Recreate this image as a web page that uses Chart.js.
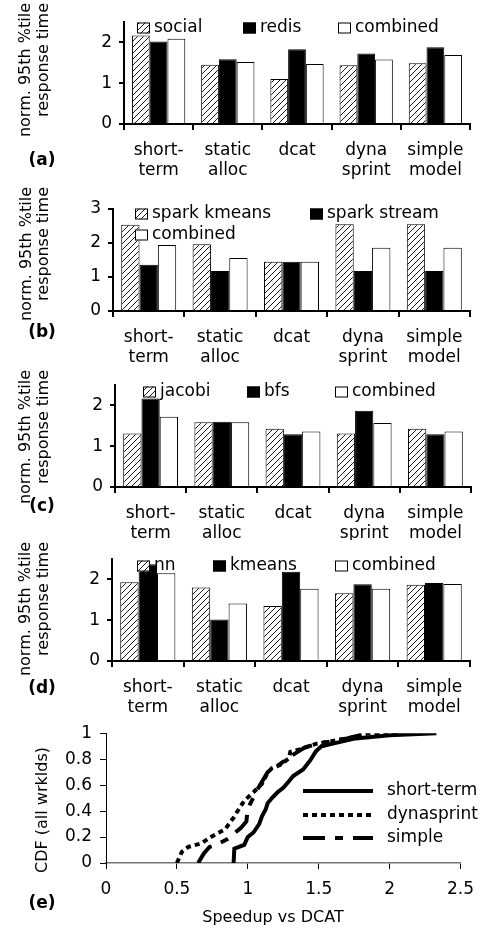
<!DOCTYPE html>
<html>
<head>
<meta charset="utf-8">
<script src="https://cdn.jsdelivr.net/npm/chart.js@4.4.1/dist/chart.umd.min.js"></script>
<style>
  html, body { margin: 0; padding: 0; background: #fff; }
  #wrap { position: relative; width: 484px; height: 930px; overflow: hidden; }
  canvas { position: absolute; left: 0; }
</style>
</head>
<body>
<div id="wrap">
  <canvas id="pa" width="484" height="185"></canvas>
  <canvas id="pb" width="484" height="190"></canvas>
  <canvas id="pc" width="484" height="180"></canvas>
  <canvas id="pd" width="484" height="190"></canvas>
  <canvas id="pe" width="484" height="215"></canvas>
</div>
<script>
// categories shared by the four bar panels
const categories = [['short-', 'term'], ['static', 'alloc'], 'dcat', ['dyna', 'sprint'], ['simple', 'model']];

// (a) social / redis
const aNames = ['social', 'redis', 'combined'];
const aSocial = [2.17, 1.45, 1.10, 1.44, 1.49];
const aRedis = [2.02, 1.59, 1.83, 1.73, 1.88];
const aCombined = [2.09, 1.52, 1.47, 1.58, 1.69];

// (b) spark kmeans / spark stream
const bNames = ['spark kmeans', 'spark stream', 'combined'];
const bKmeans = [2.54, 1.96, 1.45, 2.55, 2.55];
const bStream = [1.36, 1.18, 1.45, 1.18, 1.18];
const bCombined = [1.94, 1.56, 1.45, 1.86, 1.86];

// (c) jacobi / bfs
const cNames = ['jacobi', 'bfs', 'combined'];
const cJacobi = [1.31, 1.59, 1.43, 1.31, 1.43];
const cBfs = [2.17, 1.60, 1.29, 1.87, 1.29];
const cCombined = [1.72, 1.59, 1.36, 1.57, 1.36];

// (d) nn / kmeans
const dNames = ['nn', 'kmeans', 'combined'];
const dNn = [1.93, 1.80, 1.35, 1.66, 1.87];
const dKmeans = [2.37, 1.02, 2.19, 1.88, 1.91];
const dCombined = [2.15, 1.41, 1.77, 1.77, 1.89];

// y axis ranges of the bar panels
const barYMax = [2.5, 3, 2.5, 2.5];

// (e) CDF of speedup vs DCAT
const cdfNames = ['short-term', 'dynasprint', 'simple'];
const shortTermX = [0.90, 0.905, 0.975, 1.0, 1.04, 1.08, 1.10, 1.125, 1.14, 1.17, 1.21, 1.25, 1.29, 1.32, 1.39, 1.44, 1.48, 1.52, 1.6, 1.76, 2.0, 2.33];
const shortTermY = [0, 0.11, 0.14, 0.2, 0.235, 0.3, 0.36, 0.41, 0.46, 0.5, 0.545, 0.58, 0.63, 0.67, 0.72, 0.79, 0.86, 0.9, 0.92, 0.96, 0.985, 1.0];
const dynaX = [0.50, 0.535, 0.58, 0.67, 0.74, 0.84, 0.90, 0.94, 0.975, 1.04, 1.10, 1.14, 1.17, 1.23, 1.29, 1.30, 1.38, 1.48, 1.6, 1.75, 1.85, 2.07];
const dynaY = [0, 0.086, 0.124, 0.15, 0.2, 0.26, 0.35, 0.42, 0.48, 0.545, 0.61, 0.695, 0.73, 0.757, 0.806, 0.856, 0.88, 0.918, 0.94, 0.97, 1.0, 1.0];
const simpleX = [0.65, 0.69, 0.73, 0.77, 0.86, 0.95, 0.99, 1.0, 1.07, 1.14, 1.2, 1.3, 1.4, 1.5, 1.7, 1.85];
const simpleY = [0, 0.074, 0.124, 0.136, 0.186, 0.27, 0.32, 0.42, 0.57, 0.70, 0.74, 0.82, 0.89, 0.92, 0.96, 1.0];

const FONT = "'DejaVu Sans', sans-serif";
Chart.defaults.font.family = FONT;
Chart.defaults.color = '#000';

// diagonal hatch fill
function makeHatch() {
    const c = document.createElement('canvas');
    c.width = 6; c.height = 6;
    const g = c.getContext('2d');
    g.fillStyle = '#fff';
    g.fillRect(0, 0, 6, 6);
    g.strokeStyle = '#000';
    g.lineWidth = 0.9;
    g.beginPath();
    g.moveTo(0, 6); g.lineTo(6, 0);
    g.moveTo(-1, 1); g.lineTo(1, -1);
    g.moveTo(5, 7); g.lineTo(7, 5);
    g.stroke();
    return g.createPattern(c, 'repeat');
}
const hatch = makeHatch();
const fills = [hatch, '#000', '#fff'];

// short numbers: 0, 0.2, 1, 1.5 ...
const shortNum = v => String(Math.round(v * 10) / 10);

// rotated y title, panel tag, legend drawn on the canvas
function drawText(ctx, t, x, y, opts) {
    ctx.save();
    ctx.font = (opts.bold ? 'bold ' : '') + (opts.size || 17) + 'px ' + FONT;
    ctx.fillStyle = '#000';
    ctx.textAlign = opts.align || 'left';
    ctx.textBaseline = 'middle';
    ctx.translate(x, y);
    if (opts.rot) ctx.rotate(-Math.PI / 2);
    ctx.fillText(t, 0, 0);
    ctx.restore();
}

function panelPlugin(L) {
    return {
        id: 'panelText',
        afterDraw(chart) {
            const ctx = chart.ctx;
            const dy = -L.top;
            // y axis title
            L.ytitle.forEach(t => drawText(ctx, t.text, t.x, t.y + dy, { rot: true, align: t.align, size: 16 }));
            // panel tag
            drawText(ctx, L.tag, 42, L.tagY + dy, { bold: true, align: 'center' });
            if (L.xtitle) drawText(ctx, L.xtitle.text, L.xtitle.x, L.xtitle.y + dy, { align: 'center', size: 16 });
            // legend
            chart.data.datasets.forEach((ds, i) => {
                const it = L.legend[i];
                ctx.save();
                if (it.line) {
                    ctx.strokeStyle = '#000';
                    ctx.lineWidth = 4;
                    ctx.setLineDash(ds.borderDash || []);
                    ctx.beginPath();
                    ctx.moveTo(it.x, it.y + dy);
                    ctx.lineTo(it.x + 70, it.y + dy);
                    ctx.stroke();
                    ctx.restore();
                    drawText(ctx, ds.label, it.x + 84, it.y + dy, {});
                } else {
                    ctx.fillStyle = ds.backgroundColor;
                    ctx.strokeStyle = '#000';
                    ctx.lineWidth = 1;
                    ctx.fillRect(it.x, it.y + dy - 5.5, 13, 11);
                    ctx.strokeRect(it.x + 0.5, it.y + dy - 5, 12, 10);
                    ctx.restore();
                    drawText(ctx, ds.label, it.x + 17, it.y + dy, {});
                }
            });
        }
    };
}

function barPanel(id, L, names, series, yMax) {
    const canvas = document.getElementById(id);
    canvas.style.top = L.top + 'px';
    return new Chart(canvas, {
        type: 'bar',
        data: {
            labels: categories,
            datasets: series.map((s, i) => ({
                label: names[i],
                data: s,
                backgroundColor: fills[i],
                borderColor: '#000',
                borderWidth: 1,
                categoryPercentage: 0.77,
                barPercentage: 1
            }))
        },
        options: {
            responsive: false,
            animation: false,
            layout: { padding: { left: 0, top: L.t - L.top, right: 484 - L.r, bottom: 0 } },
            plugins: { legend: { display: false }, tooltip: { enabled: false } },
            scales: {
                x: {
                    grid: { drawOnChartArea: false, tickLength: 6, color: '#000', lineWidth: 2, offset: true },
                    border: { color: '#000', width: 2 },
                    ticks: { color: '#000', font: { size: 17 }, padding: 10, maxRotation: 0, autoSkip: false },
                    afterFit(s) { s.height = L.h - (L.b - L.top); }
                },
                y: {
                    min: 0,
                    max: yMax,
                    ticks: {
                        stepSize: 0.5,
                        color: '#000',
                        font: { size: 17 },
                        padding: 7,
                        callback: v => Number.isInteger(v) ? String(v) : ''
                    },
                    grid: { drawOnChartArea: false, tickLength: 5, color: '#000', lineWidth: 2 },
                    border: { color: '#000', width: 2 },
                    afterFit(s) { s.width = L.l; }
                }
            }
        },
        plugins: [panelPlugin(L)]
    });
}

const yTitle = (x1, x2, top) => [
    { text: 'norm. 95th %tile', x: x1, y: top, align: 'right' },
    { text: 'response time', x: x2, y: top, align: 'right' }
];

const layoutA = { top: 0, h: 185, l: 124, t: 22, r: 470, b: 124, tag: '(a)', tagY: 161,
    ytitle: yTitle(26, 44, 3),
    legend: [{ x: 137, y: 28 }, { x: 243, y: 28 }, { x: 338, y: 28 }] };
const layoutB = { top: 180, h: 190, l: 113, t: 209, r: 470, b: 311, tag: '(b)', tagY: 333,
    ytitle: yTitle(27, 44, 187),
    legend: [{ x: 135, y: 214 }, { x: 310, y: 214 }, { x: 135, y: 235 }] };
const layoutC = { top: 360, h: 180, l: 115, t: 385, r: 471, b: 487, tag: '(c)', tagY: 507,
    ytitle: yTitle(26, 44, 370),
    legend: [{ x: 143, y: 392 }, { x: 247, y: 392 }, { x: 335, y: 392 }] };
const layoutD = { top: 535, h: 190, l: 112, t: 559, r: 470, b: 661, tag: '(d)', tagY: 689,
    ytitle: yTitle(26, 44, 542),
    legend: [{ x: 137, y: 566 }, { x: 213, y: 566 }, { x: 335, y: 566 }] };
const layoutE = { top: 715, h: 215, l: 106, t: 729, r: 467, b: 863, tag: '(e)', tagY: 904,
    ytitle: [{ text: 'CDF (all wrklds)', x: 43, y: 810, align: 'center' }],
    xtitle: { text: 'Speedup vs DCAT', x: 273, y: 918 },
    legend: [{ x: 303, y: 791, line: true }, { x: 303, y: 815, line: true }, { x: 303, y: 838, line: true }] };

barPanel('pa', layoutA, aNames, [aSocial, aRedis, aCombined], barYMax[0]);
barPanel('pb', layoutB, bNames, [bKmeans, bStream, bCombined], barYMax[1]);
barPanel('pc', layoutC, cNames, [cJacobi, cBfs, cCombined], barYMax[2]);
barPanel('pd', layoutD, dNames, [dNn, dKmeans, dCombined], barYMax[3]);

// (e) CDF line chart
const toPts = (xs, ys) => xs.map((x, i) => ({ x: x, y: ys[i] }));
const cdfDash = [[], [5, 4], [22, 10, 8, 10]];
const cdfSeries = [toPts(shortTermX, shortTermY), toPts(dynaX, dynaY), toPts(simpleX, simpleY)];
(function () {
    const L = layoutE;
    const canvas = document.getElementById('pe');
    canvas.style.top = L.top + 'px';
    new Chart(canvas, {
        type: 'line',
        data: {
            datasets: cdfSeries.map((pts, i) => ({
                label: cdfNames[i],
                data: pts,
                borderColor: '#000',
                borderWidth: 4,
                borderDash: cdfDash[i],
                pointRadius: 0,
                tension: 0,
                fill: false
            }))
        },
        options: {
            responsive: false,
            animation: false,
            layout: { padding: { left: 0, top: L.t - L.top, right: 484 - L.r, bottom: 0 } },
            plugins: { legend: { display: false }, tooltip: { enabled: false } },
            scales: {
                x: {
                    type: 'linear',
                    min: 0,
                    max: 2.5,
                    ticks: { stepSize: 0.5, color: '#000', font: { size: 17 }, padding: 10, maxRotation: 0, callback: shortNum },
                    grid: { drawOnChartArea: false, tickLength: 6, color: '#000', lineWidth: 1 },
                    border: { color: '#777', width: 1.5 },
                    afterFit(s) { s.height = L.h - (L.b - L.top); }
                },
                y: {
                    min: 0,
                    max: 1,
                    ticks: { stepSize: 0.2, color: '#000', font: { size: 17 }, padding: 8, callback: shortNum },
                    grid: { drawOnChartArea: false, tickLength: 6, color: '#000', lineWidth: 1 },
                    border: { color: '#000', width: 1 },
                    afterFit(s) { s.width = L.l; }
                }
            }
        },
        plugins: [panelPlugin(L)]
    });
})();
</script>
</body>
</html>
